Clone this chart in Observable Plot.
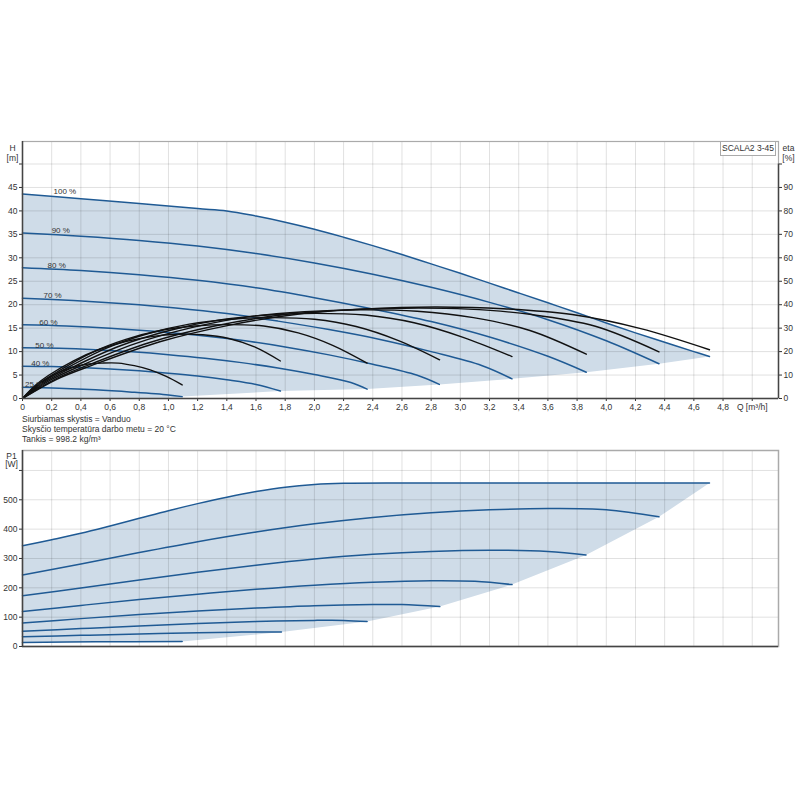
<!DOCTYPE html>
<html><head><meta charset="utf-8">
<script src="https://cdn.jsdelivr.net/npm/d3@7"></script>
<script src="https://cdn.jsdelivr.net/npm/@observablehq/plot@0.6"></script>
<style>
body{margin:0;background:#fff;font-family:"Liberation Sans",Arial,sans-serif;}
#wrap{position:relative;width:800px;height:800px;overflow:hidden;background:#fff}
#top{position:absolute;left:0;top:100px;}
#bot{position:absolute;left:0;top:444px;}
#info{position:absolute;left:22px;top:414px;font-size:8.5px;line-height:10px;color:#333;}
#model{position:absolute;left:720px;top:141px;width:54px;height:13px;border:1px solid #aaa;background:#fff;font-size:8.5px;line-height:13px;text-align:center;color:#333;}
</style></head><body>
<div id="wrap">
<div id="top"></div>
<div id="model">SCALA2 3-45</div>
<div id="info">Siurbiamas skystis = Vanduo<br>Skysčio temperatūra darbo metu = 20 °C<br>Tankis = 998.2 kg/m³</div>
<div id="bot"></div>
</div>
<script>
// ---- ticks ----
const qTicks = [0,0.2,0.4,0.6,0.8,1.0,1.2,1.4,1.6,1.8,2.0,2.2,2.4,2.6,2.8,3.0,3.2,3.4,3.6,3.8,4.0,4.2,4.4,4.6,4.8];
const qGrid = [0.2,0.4,0.6,0.8,1.0,1.2,1.4,1.6,1.8,2.0,2.2,2.4,2.6,2.8,3.0,3.2,3.4,3.6,3.8,4.0,4.2,4.4,4.6,4.8,5.0];
const hTicks = [0,5,10,15,20,25,30,35,40,45,50];
const pTicks = [0,100,200,300,400,500,600];
const speeds = [100,90,80,70,60,50,40,25];

// ---- QH curves [Q m3/h, H m] ----
const H100 = [[0,43.6],[0.4,42.6],[0.8,41.6],[1.2,40.5],[1.4,40.0],[1.6,38.9],[1.8,37.6],[2.0,36.1],[2.2,34.4],[2.4,32.6],[2.6,30.7],[2.8,28.7],[3.0,26.7],[3.2,24.6],[3.4,22.5],[3.6,20.4],[3.8,18.3],[4.0,16.1],[4.2,14.0],[4.4,12.0],[4.6,10.0],[4.707,8.96]];
const H90 = [[0,35.3],[0.4,34.6],[0.8,33.7],[1.2,32.5],[1.6,30.9],[2.0,28.9],[2.4,26.5],[2.8,23.7],[3.2,20.5],[3.6,16.8],[4.0,12.3],[4.361,7.4]];
const H80 = [[0,27.9],[0.4,27.3],[0.8,26.4],[1.2,25.2],[1.6,23.6],[2.0,21.5],[2.4,19.1],[2.8,16.4],[3.2,13.1],[3.6,9.0],[3.863,5.6]];
const H70 = [[0,21.4],[0.35,20.9],[0.7,20.2],[1.05,19.3],[1.4,18.1],[1.75,16.5],[2.1,14.7],[2.45,12.6],[2.8,10.0],[3.15,7.0],[3.354,4.2]];
const H60 = [[0,15.7],[0.3,15.45],[0.6,15.0],[0.9,14.35],[1.2,13.5],[1.5,12.4],[1.8,11.0],[2.1,9.3],[2.4,7.3],[2.7,5.0],[2.856,3.0]];
const H50 = [[0,10.8],[0.25,10.7],[0.5,10.4],[0.75,9.95],[1.0,9.35],[1.25,8.6],[1.5,7.65],[1.75,6.5],[2.0,5.1],[2.25,3.4],[2.361,2.0]];
const H40 = [[0,6.9],[0.2,6.8],[0.4,6.6],[0.6,6.3],[0.8,5.9],[1.0,5.4],[1.2,4.8],[1.4,4.0],[1.6,3.0],[1.767,1.6]];
const H25 = [[0,2.4],[0.25,2.2],[0.5,1.85],[0.75,1.35],[1.0,0.75],[1.094,0.4]];

// ---- efficiency curves [Q m3/h, eta %] ----
const E100 = [[0,0],[0.235,8.2],[0.471,14.0],[0.941,24.2],[1.412,31.2],[1.883,35.9],[2.354,38.2],[2.824,39.0],[3.295,38.3],[3.766,35.8],[4.236,29.8],[4.707,20.8]];
const E90 = [[0,0],[0.218,8.1],[0.436,13.9],[0.872,23.9],[1.308,30.8],[1.744,35.4],[2.181,37.7],[2.617,38.5],[3.053,38.1],[3.489,35.8],[3.925,30.8],[4.361,19.9]];
const E80 = [[0,0],[0.193,7.9],[0.386,13.6],[0.773,23.4],[1.159,30.2],[1.545,34.8],[1.932,37.0],[2.318,37.8],[2.704,37.2],[3.090,34.5],[3.477,29.0],[3.863,18.9]];
const E70 = [[0,0],[0.168,7.6],[0.335,13.1],[0.671,22.5],[1.006,29.0],[1.342,33.4],[1.677,35.6],[2.012,36.3],[2.348,35.6],[2.683,32.3],[3.019,26.1],[3.354,17.9]];
const E60 = [[0,0],[0.143,7.2],[0.286,12.4],[0.572,21.4],[0.857,27.6],[1.143,31.7],[1.429,33.8],[1.715,34.5],[2.001,33.8],[2.286,30.7],[2.572,24.8],[2.858,16.5]];
const E50 = [[0,0],[0.118,6.6],[0.236,11.3],[0.472,19.5],[0.708,25.2],[0.944,29.0],[1.181,30.9],[1.417,31.5],[1.653,30.9],[1.889,28.0],[2.125,22.7],[2.361,15.1]];
const E40 = [[0,0],[0.088,5.6],[0.177,9.8],[0.353,16.2],[0.530,21.0],[0.707,24.3],[0.884,26.4],[1.060,27.4],[1.237,27.2],[1.414,25.6],[1.590,22.0],[1.767,16.0]];
const E25 = [[0,0],[0.055,3.4],[0.109,6.0],[0.219,10.2],[0.328,13.0],[0.438,14.6],[0.547,15.1],[0.656,15.1],[0.766,14.0],[0.875,12.2],[0.985,9.4],[1.094,5.8]];

// ---- power curves [Q m3/h, P1 W] ----
const P100 = [[0,343],[0.2,364],[0.4,386],[0.6,411],[0.8,437],[1.0,463],[1.2,487],[1.4,509],[1.6,528],[1.8,543],[2.0,552],[2.2,556],[2.6,557],[3.0,557],[3.5,557],[4.0,557],[4.707,557]];
const P90 = [[0,244],[0.4,281],[0.8,320],[1.2,357],[1.6,390],[2.0,418],[2.4,440],[2.8,456],[3.2,466],[3.6,470],[4.0,466],[4.361,442]];
const P80 = [[0,173],[0.4,199],[0.8,227],[1.2,253],[1.6,277],[2.0,298],[2.4,314],[2.8,324],[3.2,328],[3.6,324],[3.861,312]];
const P70 = [[0,119],[0.4,140],[0.8,160],[1.2,178],[1.6,195],[2.0,209],[2.4,219],[2.8,224],[3.1,222],[3.354,211]];
const P60 = [[0,80],[0.4,95],[0.8,109],[1.2,121],[1.6,131],[2.0,139],[2.4,143],[2.6,143],[2.859,136]];
const P50 = [[0,52],[0.4,61],[0.8,70],[1.2,78],[1.6,85],[2.0,89],[2.2,89],[2.361,85]];
const P40 = [[0,33],[0.4,38],[0.8,43],[1.2,47],[1.5,49],[1.774,49]];
const P25 = [[0,14],[0.5,16],[1.094,17]];

const hCurves = [H100,H90,H80,H70,H60,H50,H40,H25];
const eCurves = [E100,E90,E80,E70,E60,E50,E40,E25];
const pCurves = [P100,P90,P80,P70,P60,P50,P40,P25];

const last = c => c[c.length-1];
const topArea = [...H100, ...hCurves.slice(1).map(last), [last(H25)[0],0], [0,0]];
const botArea = [...P100, ...pCurves.slice(1, 7).map(last), ...P25.slice().reverse()];

const xDomain = [0, 5.18];
const fmtQ = d => d === 0 ? "0" : d.toFixed(1).replace(".", ",");
const BLUE = "#1f5a94", FILL = "#cfdce8", AX = "#444";
const baseStyle = {fontFamily:"Liberation Sans, Arial, sans-serif", fontSize:"8.5px", color:"#333", background:"transparent", overflow:"visible"};
const X = d => d[0], Y = d => d[1];

const topChart = Plot.plot({
  width:800, height:320, marginLeft:22, marginRight:22, marginTop:41, marginBottom:22,
  style: baseStyle,
  x:{domain:xDomain}, y:{domain:[0,54.8]},
  marks:[
    Plot.line(topArea,{x:X,y:Y,fill:FILL,stroke:"none"}),
    Plot.gridX({ticks:qGrid, stroke:"#000", strokeOpacity:0.12}),
    Plot.gridY({ticks:hTicks.slice(1), stroke:"#000", strokeOpacity:0.12}),
    Plot.frame({stroke:"#aaa", strokeWidth:1.2}),
    ...hCurves.map(c => Plot.line(c,{x:X,y:Y,stroke:BLUE,strokeWidth:1.5,curve:"catmull-rom"})),
    ...eCurves.map(c => Plot.line(c,{x:X,y:d=>d[1]/2,stroke:"#111",strokeWidth:1.4,curve:"catmull-rom"})),
    Plot.text(speeds,{x:s=>0.01+0.0028*s, y:(s,i)=>hCurves[i][0][1], text:s=>s+" %", lineAnchor:"bottom", fontSize:8, fill:"#333"}),
    Plot.axisX({ticks:qTicks, tickFormat:fmtQ, tickSize:3, tickPadding:2, label:null}),
    Plot.axisX({ticks:[5], tickFormat:()=>"Q [m³/h]", tickSize:3, tickPadding:2, label:null}),
    Plot.axisY({ticks:hTicks, tickFormat:d=>d===50?"":d, tickSize:3, tickPadding:2, label:null}),
    Plot.axisY({anchor:"right", ticks:hTicks, tickFormat:d=>d===50?"":d*2, tickSize:3, tickPadding:2, label:null}),
    Plot.ruleX([0],{stroke:AX,strokeWidth:1.5}),
    Plot.ruleY([0],{stroke:AX,strokeWidth:1.5}),
    Plot.ruleX([xDomain[1]],{y1:0,y2:50,stroke:AX,strokeWidth:1.5}),
    Plot.text(["H\n[m]"],{x:0,y:50,text:d=>d,dx:-10,dy:-3,lineAnchor:"bottom",textAnchor:"middle",fontSize:8.5,fill:"#333",lineHeight:1.15}),
    Plot.text(["eta\n[%]"],{x:xDomain[1],y:50,text:d=>d,dx:10,dy:-3,lineAnchor:"bottom",textAnchor:"middle",fontSize:8.5,fill:"#333",lineHeight:1.15})
  ]
});
document.getElementById("top").append(topChart);

const botChart = Plot.plot({
  width:800, height:210, marginLeft:22, marginRight:22, marginTop:6, marginBottom:8,
  style: baseStyle,
  x:{domain:xDomain, axis:null}, y:{domain:[0,668], axis:null},
  marks:[
    Plot.line(botArea,{x:X,y:Y,fill:FILL,stroke:"none"}),
    Plot.gridX({ticks:qGrid, stroke:"#000", strokeOpacity:0.12}),
    Plot.gridY({ticks:pTicks.slice(1), stroke:"#000", strokeOpacity:0.12}),
    Plot.frame({stroke:"#aaa", strokeWidth:1.5}),
    ...pCurves.map(c => Plot.line(c,{x:X,y:Y,stroke:BLUE,strokeWidth:1.5,curve:"catmull-rom"})),
    Plot.axisY({ticks:pTicks, tickFormat:d=>d===600?"":d, tickSize:3, tickPadding:2, label:null}),
    Plot.ruleX([0],{stroke:AX,strokeWidth:1.5}),
    Plot.ruleY([0],{stroke:AX,strokeWidth:1.5}),
    Plot.text(["P1\n[W]"],{x:0,y:600,text:d=>d,dx:-11,dy:-3,lineAnchor:"bottom",textAnchor:"middle",fontSize:8.5,fill:"#333",lineHeight:1.0})
  ]
});
document.getElementById("bot").append(botChart);
</script>
</body></html>
